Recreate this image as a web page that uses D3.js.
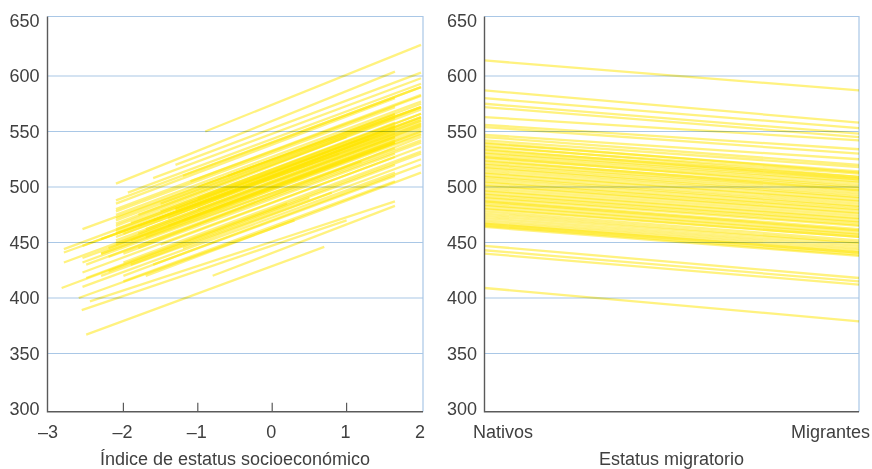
<!DOCTYPE html>
<html><head><meta charset="utf-8">
<script src="https://cdn.jsdelivr.net/npm/d3@7"></script>
<style>
body{margin:0;background:#fff;}
svg text{font-family:"Liberation Sans",Arial,sans-serif;fill:#404040;}
</style></head>
<body><svg id="c" width="872" height="469"></svg>
<script>
// Y axis ticks shared by both panels
const yTicks = [300, 350, 400, 450, 500, 550, 600, 650];
// Left panel: socio-economic index ticks
const sesTicks = [-3, -2, -1, 0, 1, 2];
const sesTickLabels = ["–3", "–2", "–1", "0", "1", "2"];
const sesTitle = "Índice de estatus socioeconómico";
// Left panel lines: start SES, start score, end SES, end score
const sesStart  = [-0.9,-1.3,-1.6,-1.2,-1.94,-2.1,-2.1,-1.5,-2.1,-1.9,-2.1,-1.0,-2.1,-1.7,-2.1,-1.4,-2.1,-1.8,-2.5,-2.2,-1.5,-2.0,-2.5,-1.2,-2.0,-1.7,
                   -2.1,-1.0,-2.55,-2.8,-2.3,-2.8,-2.55,-2.8,-1.8,-2.55,-2.0,-2.55,-2.2,-1.6,-2.0,-2.45,-0.8,
                   -2.5,-2.56,-2.83,-2.6,-2.3,-1.9,-2.55,-2.1,-1.6,-2.3,-1.3,
                   -2.1,-2.1,-2.1,-2.1,-2.1,-2.1,-2.1,-2.1,-1.8,-1.5,-1.3,-1.6,-1.8,-1.4,-2.0,-1.9,-1.7,-1.2,-2.2,-2.55,-2.3,-1.0,-0.5,-0.6,-1.1];
const scoreStart= [550,520,508,510,495,480,475,485,470,468,462,490,458,462,452,465,448,445,430,437,448,432,418,445,420,420,
                   503,500,462,444,453,441,436,432,458,423,440,410,424,430,415,397,420,
                   367,389,409,400,420,430,447,465,470,440,480,
                   488,485,478,472,467,460,455,450,475,478,480,470,465,472,458,452,455,470,445,432,440,480,500,510,505];
const sesEnd    = [2,2,2,2,2,2,2,2,2,2,2,2,2,2,2,2,2,2,2,2,2,2,2,2,2,2,
                   1.65,1.65,1.65,1.65,1.65,1.65,1.65,1.65,1.65,1.65,1.65,1.65,1.65,1.65,1.65,1.65,1.65,
                   0.7,1.0,0.2,0.3,0.8,0.5,0.9,1.0,1.3,1.2,1.5,
                   2,1.65,1.65,2,1.65,1.65,2,1.65,2,1.65,2,1.65,2,1.65,2,1.65,2,2,1.65,1.65,2,2,2,2,2];
const scoreEnd  = [628,603,598,590,593,583,577,572,572,566,563,566,560,556,554,550,550,545,542,540,536,532,530,525,520,513,
                   604,566,565,555,550,548,540,542,545,527,530,513,520,510,505,487,483,
                   446,470,485,470,495,490,530,545,543,523,551,
                   590,580,572,575,562,555,558,545,570,558,562,552,560,553,557,540,548,552,540,535,547,555,563,572,582];
// Right panel
const migCategories = ["Nativos", "Migrantes"];
const migTitle = "Estatus migratorio";
const nativos   = [614,587,580,575,572,563,556,554,547,545,542,539,536,533,531,528,526,523,521,518,515,512,510,507,504,501,499,496,493,491,488,486,483,480,476,472,468,466,464,447,443,440,409,
                   540,537,534,530,527,524,520,517,513,509,505,502,497,494,490,487,484,481,478,474,470,467,465];
const migrantes = [587,558,553,548,545,542,534,530,525,520,518,514,512,509,507,504,502,499,497,493,490,487,485,482,479,476,474,471,468,466,462,460,457,455,450,447,443,441,438,418,415,412,379,
                   513,509,507,505,500,497,495,491,488,483,480,477,472,469,465,461,458,455,452,449,445,441,439];

const svg = d3.select("#c");
const y = d3.scaleLinear().domain([300, 650]).range([409, 20.5]);
const frameTop = 16.5, frameBottom = 411.7;
const xL = d3.scaleLinear().domain([-3, 2]).range([49, 421]);
const xR = d3.scaleLinear().domain([0, 1]).range([484.5, 859]);
const lineCol = "#ffe600";

function panel(x0, x1, labelX) {
  const g = svg.append("g");
  const lines = g.append("g").attr("class", "lines");
  const grid = g.append("g").style("mix-blend-mode", "multiply");
  yTicks.slice(1, -1).forEach(t => {
    grid.append("line").attr("x1", x0).attr("x2", x1).attr("y1", y(t)).attr("y2", y(t))
      .attr("stroke", "#a9c7e6").attr("stroke-width", 1.2);
  });
  grid.append("path").attr("d", `M${x0},${frameTop}H${x1}V${frameBottom}`)
    .attr("fill", "none").attr("stroke", "#a9c7e6").attr("stroke-width", 1.2);
  g.append("path").attr("d", `M${x0},${frameTop}V${frameBottom}H${x1}`)
    .attr("fill", "none").attr("stroke", "#5a5a5a").attr("stroke-width", 1.4);
  yTicks.forEach(t => {
    g.append("text").attr("x", labelX).attr("y", y(t)).attr("dy", "0.35em")
      .attr("text-anchor", "end").attr("font-size", 18).text(t);
  });
  return {g, lines};
}

// Left panel
const L = panel(47.5, 423, 39.5);
sesStart.forEach((s, i) => {
  L.lines.append("line")
    .attr("x1", xL(s)).attr("y1", y(scoreStart[i]))
    .attr("x2", xL(sesEnd[i])).attr("y2", y(scoreEnd[i]))
    .attr("stroke", lineCol).attr("stroke-opacity", 0.5).attr("stroke-width", 2.3);
});
sesTicks.forEach((t, i) => {
  if (i > 0 && i < sesTicks.length - 1) {
    L.g.append("line").attr("x1", xL(t)).attr("x2", xL(t)).attr("y1", frameBottom).attr("y2", frameBottom - 9)
      .attr("stroke", "#5a5a5a").attr("stroke-width", 1.2);
  }
  L.g.append("text").attr("x", xL(t) - 1).attr("y", 438).attr("text-anchor", "middle")
    .attr("font-size", 18).text(sesTickLabels[i]);
});
L.g.append("text").attr("x", 235).attr("y", 465).attr("text-anchor", "middle").attr("font-size", 18).text(sesTitle);

// Right panel
const R = panel(484.5, 859, 477);
nativos.forEach((v, i) => {
  R.lines.append("line")
    .attr("x1", xR(0)).attr("y1", y(v))
    .attr("x2", xR(1)).attr("y2", y(migrantes[i]))
    .attr("stroke", lineCol).attr("stroke-opacity", 0.5).attr("stroke-width", 2.3);
});
R.g.append("text").attr("x", 473).attr("y", 438).attr("text-anchor", "start").attr("font-size", 18).text(migCategories[0]);
R.g.append("text").attr("x", 870).attr("y", 438).attr("text-anchor", "end").attr("font-size", 18).text(migCategories[1]);
R.g.append("text").attr("x", 671.5).attr("y", 465).attr("text-anchor", "middle").attr("font-size", 18).text(migTitle);
</script></body></html>
